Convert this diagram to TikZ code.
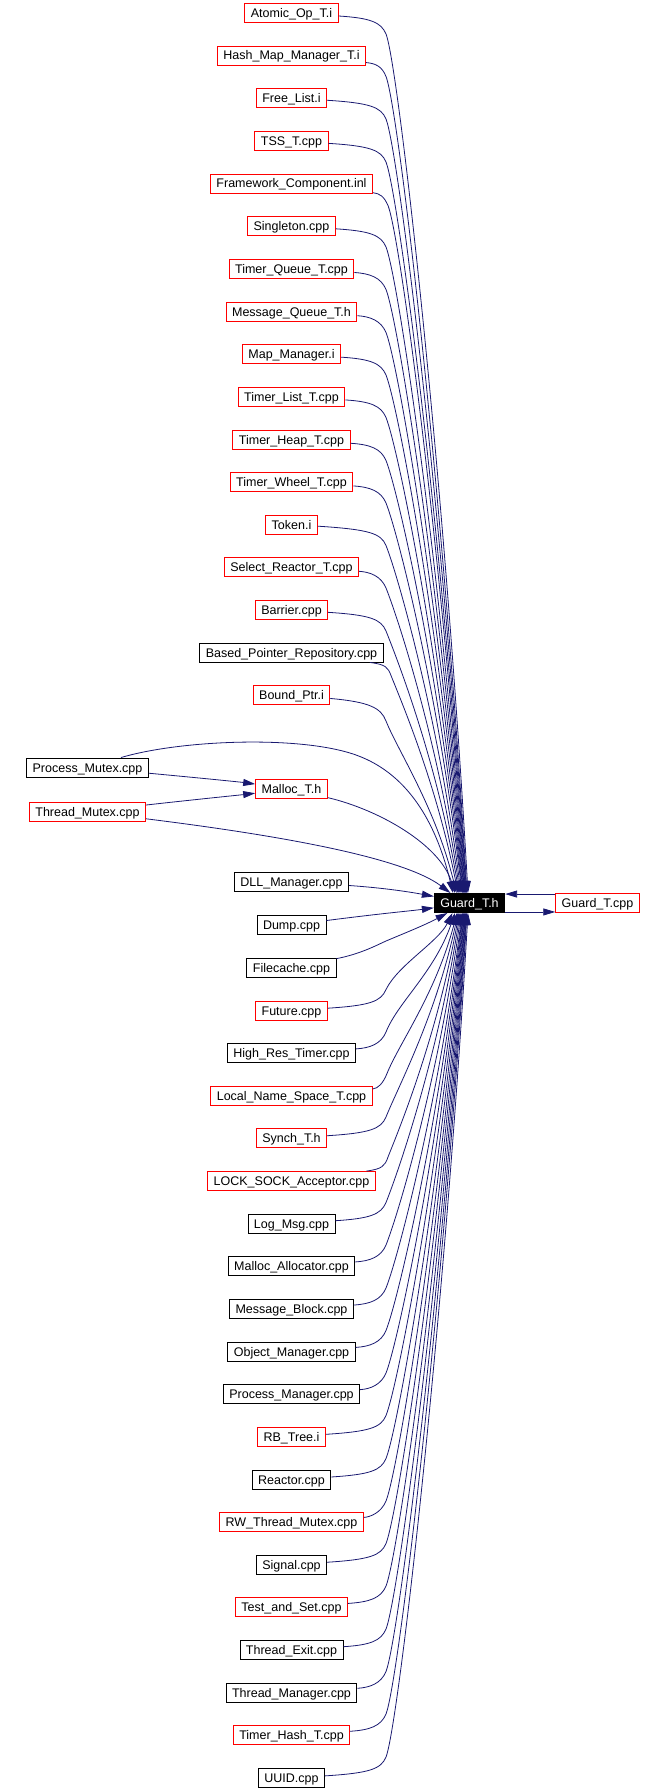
\documentclass[tikz,border=0pt]{standalone}
\usepackage{fontspec}
\setmainfont{Liberation Sans}
\usetikzlibrary{arrows.meta}
\definecolor{edgeblue}{HTML}{191970}

\begin{document}
\begin{tikzpicture}[x=1pt, y=-1pt,
		file/.style={draw=black, line width=0.9pt, inner xsep=6pt, inner ysep=0pt, minimum height=19pt, text height=9pt, text depth=0pt, font=\fontsize{12.5}{15}\selectfont},
		redfile/.style={file, draw=red},
		edge/.style={draw=edgeblue, line width=0.8pt, -{Triangle[length=12pt, width=7pt]}}]
		\useasboundingbox (0,0) rectangle (665,1790);
		\node[redfile] (atomic) at (291.5,13) {Atomic\_Op\_T.i};
		\node[redfile] (hashmap) at (291.5,55.5) {Hash\_Map\_Manager\_T.i};
		\node[redfile] (freelist) at (291.5,98) {Free\_List.i};
		\node[redfile] (tss) at (291.5,141) {TSS\_T.cpp};
		\node[redfile] (framework) at (291.5,183.5) {Framework\_Component.inl};
		\node[redfile] (singleton) at (291.5,226) {Singleton.cpp};
		\node[redfile] (timerqueue) at (291.5,268.5) {Timer\_Queue\_T.cpp};
		\node[redfile] (msgqueue) at (291.5,311.5) {Message\_Queue\_T.h};
		\node[redfile] (mapmgr) at (291.5,354) {Map\_Manager.i};
		\node[redfile] (timerlist) at (291.5,396.5) {Timer\_List\_T.cpp};
		\node[redfile] (timerheap) at (291.5,439.5) {Timer\_Heap\_T.cpp};
		\node[redfile] (timerwheel) at (291.5,482) {Timer\_Wheel\_T.cpp};
		\node[redfile] (token) at (291.5,524.5) {Token.i};
		\node[redfile] (selreactor) at (291.5,567) {Select\_Reactor\_T.cpp};
		\node[redfile] (barrier) at (291.5,610) {Barrier.cpp};
		\node[file] (basedptr) at (291.5,652.5) {Based\_Pointer\_Repository.cpp};
		\node[redfile] (boundptr) at (291.5,695) {Bound\_Ptr.i};
		\node[file] (procmutex) at (87.5,767.5) {Process\_Mutex.cpp};
		\node[redfile] (malloct) at (291.5,789) {Malloc\_T.h};
		\node[redfile] (thrmutex) at (87.5,811.5) {Thread\_Mutex.cpp};
		\node[file] (dllmgr) at (291.5,881.5) {DLL\_Manager.cpp};
		\node[file, fill=black, text=white] (guard) at (469.5,903) {Guard\_T.h};
		\node[redfile] (guardcpp) at (597.5,903) {Guard\_T.cpp};
		\node[file] (dump) at (291.5,925) {Dump.cpp};
		\node[file] (filecache) at (291.5,967.5) {Filecache.cpp};
		\node[redfile] (future) at (291.5,1010.5) {Future.cpp};
		\node[file] (highres) at (291.5,1053) {High\_Res\_Timer.cpp};
		\node[redfile] (localname) at (291.5,1095.5) {Local\_Name\_Space\_T.cpp};
		\node[redfile] (syncht) at (291.5,1138) {Synch\_T.h};
		\node[redfile] (locksock) at (291.5,1181) {LOCK\_SOCK\_Acceptor.cpp};
		\node[file] (logmsg) at (291.5,1223.5) {Log\_Msg.cpp};
		\node[file] (mallocalloc) at (291.5,1266) {Malloc\_Allocator.cpp};
		\node[file] (msgblock) at (291.5,1309) {Message\_Block.cpp};
		\node[file] (objmgr) at (291.5,1351.5) {Object\_Manager.cpp};
		\node[file] (procmgr) at (291.5,1394) {Process\_Manager.cpp};
		\node[redfile] (rbtree) at (291.5,1436.5) {RB\_Tree.i};
		\node[file] (reactor) at (291.5,1479.5) {Reactor.cpp};
		\node[redfile] (rwmutex) at (291.5,1522) {RW\_Thread\_Mutex.cpp};
		\node[file] (signal) at (291.5,1564.5) {Signal.cpp};
		\node[redfile] (testset) at (291.5,1607) {Test\_and\_Set.cpp};
		\node[file] (threxit) at (291.5,1650) {Thread\_Exit.cpp};
		\node[file] (thrmgr) at (291.5,1692.5) {Thread\_Manager.cpp};
		\node[redfile] (timerhash) at (291.5,1735) {Timer\_Hash\_T.cpp};
		\node[file] (uuid) at (291.5,1778) {UUID.cpp};

		\draw[edge] (atomic) .. controls (370,18) and (381,22) .. (386,34) .. controls (398,64) and (443.4,463.5) .. ([xshift=-1.5pt]guard.north);
		\draw[edge] (hashmap) .. controls (376,63.5) and (382,66.5) .. (386,76.5) .. controls (398,106.5) and (442.7,484.8) .. ([xshift=-2.5pt]guard.north);
		\draw[edge] (freelist) .. controls (370,103) and (381,107) .. (386,119) .. controls (398,149) and (442.4,506) .. ([xshift=-3pt]guard.north);
		\draw[edge] (tss) .. controls (370,146) and (381,150) .. (386,162) .. controls (398,192) and (442,527.5) .. ([xshift=-3.5pt]guard.north);
		\draw[edge] (framework) .. controls (380,193.5) and (384,196.5) .. (388,205.5) .. controls (400,235.5) and (441.7,549.3) .. ([xshift=-4pt]guard.north);
		\draw[edge] (singleton) .. controls (370,231) and (381,235) .. (386,247) .. controls (398,277) and (441.3,570) .. ([xshift=-4.5pt]guard.north);
		\draw[edge] (timerqueue) .. controls (370,273.5) and (381,277.5) .. (386,289.5) .. controls (398,319.5) and (441,591.3) .. ([xshift=-5pt]guard.north);
		\draw[edge] (msgqueue) .. controls (370,316.5) and (381,320.5) .. (386,332.5) .. controls (398,362.5) and (440.6,612.8) .. ([xshift=-5.5pt]guard.north);
		\draw[edge] (mapmgr) .. controls (370,359) and (381,363) .. (386,375) .. controls (398,405) and (440.3,634) .. ([xshift=-6pt]guard.north);
		\draw[edge] (timerlist) .. controls (370,401.5) and (381,405.5) .. (386,417.5) .. controls (398,447.5) and (439.9,655.3) .. ([xshift=-6.5pt]guard.north);
		\draw[edge] (timerheap) .. controls (370,444.5) and (381,448.5) .. (386,460.5) .. controls (398,490.5) and (439.6,676.8) .. ([xshift=-7pt]guard.north);
		\draw[edge] (timerwheel) .. controls (370,487) and (381,491) .. (386,503) .. controls (398,533) and (439.2,698) .. ([xshift=-7.5pt]guard.north);
		\draw[edge] (token) .. controls (370,529.5) and (381,533.5) .. (386,545.5) .. controls (398,575.5) and (438.5,719.3) .. ([xshift=-8.5pt]guard.north);
		\draw[edge] (selreactor) .. controls (370,572) and (381,576) .. (386,588) .. controls (398,618) and (437.8,740.5) .. ([xshift=-9.5pt]guard.north);
		\draw[edge] (barrier) .. controls (370,615) and (381,619) .. (386,631) .. controls (398,661) and (437.1,762) .. ([xshift=-10.5pt]guard.north);
		\draw[edge] (basedptr) .. controls (386,664.5) and (388,667.5) .. (391,675.5) .. controls (402,703) and (436.4,784) .. ([xshift=-11.5pt]guard.north);
		\draw[edge] (boundptr) .. controls (370,702) and (381,708) .. (386,721) .. controls (398,751) and (435.4,807) .. ([xshift=-13pt]guard.north);
		\draw[edge] (procmutex) .. controls (180,740) and (300,735) .. (356,755) .. controls (412,775) and (438,830) .. ([xshift=-16.5pt]guard.north);
		\draw[edge] (procmutex) .. controls (200,778) and (240,782) .. (malloct);
		\draw[edge] (thrmutex) .. controls (200,799) and (240,795) .. (malloct);
		\draw[edge] (thrmutex) .. controls (260,833) and (400,855) .. ([xshift=-19pt]guard.north);
		\draw[edge] (malloct) .. controls (380,810) and (440,845) .. ([xshift=-14.5pt]guard.north);
		\draw[edge] (dllmgr) .. controls (385,888) and (410,892) .. (guard);
		\draw[edge] ([yshift=-1pt]guardcpp.north west) -- ([yshift=-1pt]guard.north east);
		\draw[edge] ([yshift=1pt]guard.south east) -- ([yshift=1pt]guardcpp.south west);
		\draw[edge] (dump) .. controls (385,913) and (410,911) .. (guard);
		\draw[edge] (filecache) .. controls (360,954) and (375,946) .. (386,941) .. controls (405,933) and (425,925) .. ([xshift=-22pt]guard.south);
		\draw[edge] (future) .. controls (370,1005.5) and (381,1001.5) .. (386,989.5) .. controls (398,965) and (438,942) .. ([xshift=-17pt]guard.south);
		\draw[edge] (highres) .. controls (370,1048) and (381,1044) .. (386,1032) .. controls (398,1002) and (434.3,972.5) .. ([xshift=-14.5pt]guard.south);
		\draw[edge] (localname) .. controls (378,1088.5) and (383,1083.5) .. (387,1073.5) .. controls (399,1043.5) and (435.7,993.8) .. ([xshift=-12.5pt]guard.south);
		\draw[edge] (syncht) .. controls (370,1133) and (381,1129) .. (386,1117) .. controls (398,1087) and (436.4,1015) .. ([xshift=-11.5pt]guard.south);
		\draw[edge] (locksock) .. controls (382,1169) and (385,1166) .. (388,1157) .. controls (400,1127) and (437.1,1036.5) .. ([xshift=-10.5pt]guard.south);
		\draw[edge] (logmsg) .. controls (370,1218.5) and (381,1214.5) .. (386,1202.5) .. controls (398,1172.5) and (437.8,1057.8) .. ([xshift=-9.5pt]guard.south);
		\draw[edge] (mallocalloc) .. controls (370,1261) and (381,1257) .. (386,1245) .. controls (398,1215) and (438.5,1079) .. ([xshift=-8.5pt]guard.south);
		\draw[edge] (msgblock) .. controls (370,1304) and (381,1300) .. (386,1288) .. controls (398,1258) and (439.2,1100.5) .. ([xshift=-7.5pt]guard.south);
		\draw[edge] (objmgr) .. controls (370,1346.5) and (381,1342.5) .. (386,1330.5) .. controls (398,1300.5) and (439.6,1121.8) .. ([xshift=-7pt]guard.south);
		\draw[edge] (procmgr) .. controls (370,1389) and (381,1385) .. (386,1373) .. controls (398,1343) and (439.9,1143) .. ([xshift=-6.5pt]guard.south);
		\draw[edge] (rbtree) .. controls (370,1431.5) and (381,1427.5) .. (386,1415.5) .. controls (398,1385.5) and (440.3,1164.3) .. ([xshift=-6pt]guard.south);
		\draw[edge] (reactor) .. controls (370,1474.5) and (381,1470.5) .. (386,1458.5) .. controls (398,1428.5) and (440.6,1185.8) .. ([xshift=-5.5pt]guard.south);
		\draw[edge] (rwmutex) .. controls (370,1517) and (381,1513) .. (386,1501) .. controls (398,1471) and (441,1207) .. ([xshift=-5pt]guard.south);
		\draw[edge] (signal) .. controls (370,1559.5) and (381,1555.5) .. (386,1543.5) .. controls (398,1513.5) and (441.3,1228.3) .. ([xshift=-4.5pt]guard.south);
		\draw[edge] (testset) .. controls (370,1602) and (381,1598) .. (386,1586) .. controls (398,1556) and (441.7,1249.5) .. ([xshift=-4pt]guard.south);
		\draw[edge] (threxit) .. controls (370,1645) and (381,1641) .. (386,1629) .. controls (398,1599) and (442,1271) .. ([xshift=-3.5pt]guard.south);
		\draw[edge] (thrmgr) .. controls (370,1687.5) and (381,1683.5) .. (386,1671.5) .. controls (398,1641.5) and (442.4,1292.3) .. ([xshift=-3pt]guard.south);
		\draw[edge] (timerhash) .. controls (370,1730) and (381,1726) .. (386,1714) .. controls (398,1684) and (442.7,1313.5) .. ([xshift=-2.5pt]guard.south);
		\draw[edge] (uuid) .. controls (370,1773) and (381,1769) .. (386,1757) .. controls (398,1727) and (443.4,1335) .. ([xshift=-1.5pt]guard.south);
	\end{tikzpicture}
\end{document}
